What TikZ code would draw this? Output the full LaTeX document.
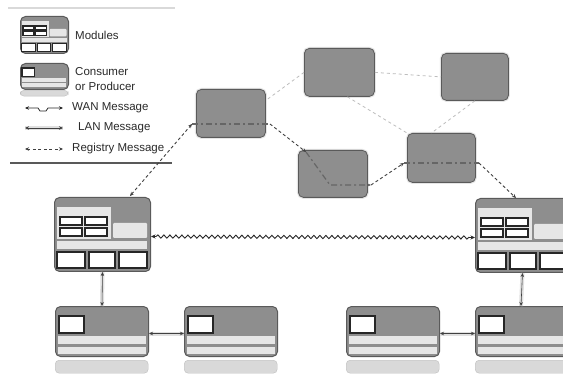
\documentclass[tikz,border=0pt]{standalone}
\usepackage{fontspec}
\setmainfont{Liberation Sans}
\usetikzlibrary{arrows.meta,decorations.pathmorphing}
\definecolor{boxgray}{HTML}{8E8E8E}
\definecolor{edgegray}{HTML}{5A5A5A}
\definecolor{litegray}{HTML}{E6E6E6}
\definecolor{palegray}{HTML}{D9D9D9}
\definecolor{linkgray}{HTML}{BDBDBD}
\definecolor{textgray}{HTML}{2A2A2A}
\tikzset{
  graybox/.style={draw=edgegray, fill=boxgray, rounded corners=5pt, line width=0.8pt,
    inner sep=0pt, anchor=north west, preaction={draw=black!10, line width=3pt}},
  modbox/.style={draw=edgegray, fill=boxgray, rounded corners=5pt, line width=1pt,
    inner sep=0pt, anchor=north west},
  paleplate/.style={fill=palegray, draw=black!25, line width=0.4pt, rounded corners=4pt,
    inner sep=0pt, anchor=north west},
  litefill/.style={fill=litegray},
  whitebox/.style={draw=black!85, fill=white, line width=1.1pt},
  legtext/.style={anchor=west, text=textgray, font=\fontsize{11.5}{13}\selectfont, inner sep=0pt},
  lanlink/.style={draw=black!75, line width=0.6pt, {Stealth[length=4pt,width=3.5pt]}-{Stealth[length=4pt,width=3.5pt]},
    preaction={draw=black!12, line width=4pt, -}},
  wanlink/.style={draw=black!85, line width=0.9pt, {Stealth[length=4.5pt,width=4pt]}-{Stealth[length=4.5pt,width=4pt]},
    decorate, decoration={snake, segment length=6pt, amplitude=1.6pt, pre length=5pt, post length=5pt}},
  reglink/.style={draw=black!75, line width=0.9pt, dash pattern=on 3pt off 2.5pt, -{Stealth[length=4pt,width=3.5pt]}},
  regin/.style={draw=black!60, line width=1.2pt, dash pattern=on 6pt off 3pt on 2pt off 3pt},
  meshlink/.style={draw=linkgray, line width=0.8pt, dash pattern=on 3pt off 3pt},
}
\newcommand{\modinner}[2]{%
  \begin{scope}[shift={(#1.north west)}, scale=#2]
    \fill[litefill] (3,10) rectangle (57,42);
    \draw[whitebox] (6,20) rectangle (28,28);
    \draw[whitebox] (31,20) rectangle (53,28);
    \draw[whitebox] (6,31) rectangle (28,39);
    \draw[whitebox] (31,31) rectangle (53,39);
    \fill[litefill, rounded corners=1pt] (59,26) rectangle (93,41);
    \fill[litefill] (3,44) rectangle (93,52);
    \draw[whitebox] (3,55) rectangle (31,71);
    \draw[whitebox] (35,55) rectangle (61,71);
    \draw[whitebox] (65,55) rectangle (93,71);
  \end{scope}}
\newcommand{\coninner}[2]{%
  \begin{scope}[shift={(#1.north west)}, scale=#2]
    \draw[whitebox] (4,10) rectangle (29,27);
    \fill[litefill] (3,30) rectangle (91,38);
    \fill[litefill] (3,41) rectangle (91,48);
  \end{scope}}

\begin{document}
\begin{tikzpicture}[x=1pt,y=-1pt]
\useasboundingbox (0,0) rectangle (563,377);
\clip (0,0) rectangle (563,377);
\fill[white] (0,0) rectangle (563,377);

% ---------- legend ----------
\coordinate (lgtopL) at (8,8);
\coordinate (lgtopR) at (175,8);
\draw[draw=black!15, line width=2pt] (lgtopL) -- (lgtopR);
\coordinate (lgbotL) at (10,163);
\coordinate (lgbotR) at (172,163);
\draw[draw=black!65, line width=1.6pt] (lgbotL) -- (lgbotR);

\node[modbox, minimum width=48, minimum height=37] (lgmod) at (20,16) {};
\modinner{lgmod}{0.5}
\node[legtext] (lgmodt) at (75,35) {Modules};

\node[paleplate, minimum width=48, minimum height=6] (lgconp) at (20,90) {};
\node[modbox, minimum width=48, minimum height=26] (lgcon) at (20,63) {};
\coninner{lgcon}{0.5}
\node[legtext] (lgcont1) at (75,72) {Consumer};
\node[legtext] (lgcont2) at (75,86) {or Producer};

\coordinate (wanA) at (25,108); \coordinate (wanB) at (63,108);
\draw[draw=black!85, line width=0.8pt, {Stealth[length=4pt,width=3.5pt]}-{Stealth[length=4pt,width=3.5pt]}]
  (wanA) -- (38,108) -- (40,111) -- (46,111) -- (48,108) -- (wanB);
\node[legtext] (want) at (72,108) {WAN Message};

\coordinate (lanA) at (25,128); \coordinate (lanB) at (63,128);
\draw[lanlink] (lanA) -- (lanB);
\node[legtext] (lant) at (78,128) {LAN Message};

\coordinate (regA) at (25,149); \coordinate (regB) at (63,149);
\draw[reglink, {Stealth[length=4pt,width=3.5pt]}-{Stealth[length=4pt,width=3.5pt]}] (regA) -- (regB);
\node[legtext] (regt) at (72,149) {Registry Message};

% ---------- registry mesh ----------
\node[graybox, minimum width=69, minimum height=48] (A) at (196,89) {};
\node[graybox, minimum width=70, minimum height=48] (B) at (304,48) {};
\node[graybox, minimum width=67, minimum height=47] (C) at (441,53) {};
\node[graybox, minimum width=69, minimum height=47] (D) at (298,150) {};
\node[graybox, minimum width=68, minimum height=49] (E) at (407,133) {};

\draw[meshlink] (A.north east) ++(2,10) -- (B.west);
\draw[meshlink] (B.east) -- (C.west);
\draw[meshlink] (B.south) ++(8,0) -- (E.north west);
\draw[meshlink] (C.south) -- ([xshift=-10pt]E.north);

% ---------- modules ----------
\node[modbox, minimum width=96, minimum height=74] (L) at (54,197) {};
\modinner{L}{1}
\node[modbox, minimum width=96, minimum height=74] (R) at (475,198) {};
\modinner{R}{1}

% ---------- consumers / producers ----------
\foreach \n/\x in {P1/55, P2/184, P3/346, P4/475}{
  \node[paleplate, minimum width=93, minimum height=13] (\n pl) at (\x,360) {};
  \node[modbox, minimum width=93, minimum height=50] (\n) at (\x,306) {};
  \coninner{\n}{1}
}

% ---------- LAN links ----------
\draw[lanlink] (L.south) -- (P1.north);
\draw[lanlink] ([yshift=-2pt]P1.east) -- ([yshift=-2pt]P2.west);
\draw[lanlink] ([yshift=-2pt]P3.east) -- ([yshift=-2pt]P4.west);
\draw[lanlink] ([xshift=-1pt]R.south) -- ([xshift=-1pt]P4.north);

% ---------- WAN link ----------
\draw[wanlink] ([yshift=-2pt]L.east) -- ([yshift=-2pt]R.west);

% ---------- registry message path ----------
\coordinate (rg0) at (130,196);
\coordinate (rg1) at (192,124);
\coordinate (rg2) at (270,124);
\coordinate (rg3) at (306,152);
\coordinate (rg4) at (330,185);
\coordinate (rg5) at (371,185);
\coordinate (rg6) at (404,163);
\coordinate (rg7) at (479,163);
\coordinate (rg8) at (516,198);
\draw[reglink, {Stealth[length=4pt,width=3.5pt]}-{Stealth[length=4pt,width=3.5pt]}] (rg0) -- (rg1);
\draw[regin] (rg1) -- (rg2);
\draw[reglink] (rg2) -- (rg3);
\draw[regin, -{Stealth[length=4pt,width=3.5pt]}] (rg3) -- (rg4) -- (rg5);
\draw[reglink] (rg5) -- (rg6);
\draw[regin] (rg6) -- (rg7);
\draw[reglink] (rg7) -- (rg8);
\end{tikzpicture}
\end{document}
